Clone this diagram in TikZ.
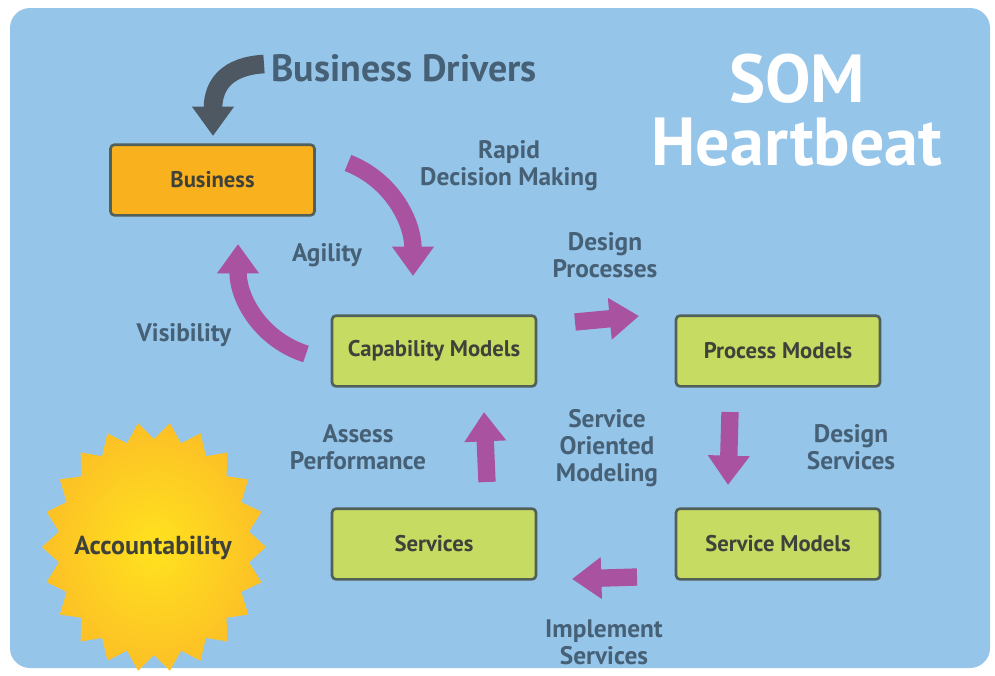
\documentclass[tikz,border=0pt]{standalone}
\usepackage{fontspec}
\setmainfont{PT Sans}
\usetikzlibrary{arrows.meta,shapes.geometric,calc}
\definecolor{bgblue}{RGB}{150,197,234}
\definecolor{slate}{RGB}{70,96,118}
\definecolor{plum}{RGB}{168,82,160}
\definecolor{darkarrow}{RGB}{78,88,98}
\definecolor{orangebox}{RGB}{249,177,30}
\definecolor{limebox}{RGB}{198,219,98}
\definecolor{boxline}{RGB}{82,96,90}
\definecolor{boxtext}{RGB}{62,66,58}
\definecolor{suncore}{RGB}{255,226,30}
\definecolor{sunedge}{RGB}{252,192,38}
\tikzset{
  x=0.75pt, y=-0.75pt,
  modelbox/.style={draw=boxline, line width=2pt, rounded corners=3pt, fill=limebox,
    minimum width=153pt, minimum height=53pt, inner sep=0pt,
    text=boxtext, font=\bfseries\fontsize{17}{20}\selectfont},
  lbl/.style={text=slate, align=center, font=\bfseries\fontsize{19}{20}\selectfont},
  bigarrow/.style={draw=plum, line width=13pt, -{Triangle[width=30pt,length=22pt]}},
}
\begin{document}
\begin{tikzpicture}
\useasboundingbox (0,0) rectangle (995,675);
\fill[white] (0,0) rectangle (995,675);
\fill[bgblue, rounded corners=15pt] (10,8) rectangle (990,668);

% sun
\coordinate (sunc) at (154,547);
\shade[inner color=suncore, outer color=sunedge]
  ($(sunc)+(0:112 and 125)$) \foreach \i in {1,...,43} { -- ($(sunc)+({\i*360/44}:{ifthenelse(mod(\i,2)==0,112,96)} and {ifthenelse(mod(\i,2)==0,125,108)})$) } -- cycle;

% boxes
\node[modelbox, fill=orangebox] (business) at (212.5,180) {Business};
\node[modelbox] (capability) at (434,351) {Capability Models};
\node[modelbox] (process) at (778,351) {Process Models};
\node[modelbox] (services) at (434,544) {Services};
\node[modelbox] (servicemodels) at (778,544) {Service Models};

% titles
\node[text=slate, font=\bfseries\fontsize{28.5}{30}\selectfont] (drivers) at (404,68) {Business Drivers};
\node[text=white, align=center, font=\bfseries\fontsize{51}{47}\selectfont] (som) at (797,110) {SOM\\Heartbeat};

% labels
\node[lbl] (rapid) at (509,166) {Rapid\\Decision Making};
\node[lbl] (agility) at (327,255) {Agility};
\node[lbl] (visibility) at (184,335) {Visibility};
\node[lbl] (designproc) at (605,255) {Design\\Processes};
\node[lbl] (assess) at (358,447) {Assess\\Performance};
\node[lbl] (som2) at (607,448) {Service\\Oriented\\Modeling};
\node[lbl] (designserv) at (851,447) {Design\\Services};
\node[lbl] (implement) at (604,642) {Implement\\Services};
\node[text=boxtext, font=\bfseries\fontsize{19.5}{20}\selectfont] (account) at (153,548) {Accountability};

% arrow end points
\coordinate (gA) at (264,64);
\coordinate (gB) at (213,136);
\coordinate (r1) at (348,163);
\coordinate (r2) at (413,276);
\coordinate (v1) at (306,354);
\coordinate (v2) at (238,244);
\coordinate (p1) at (575,322);
\coordinate (p2) at (639,316);
\coordinate (d1) at (730,412);
\coordinate (d2) at (728,485);
\coordinate (i1) at (637,577);
\coordinate (i2) at (572,579);
\coordinate (u1) at (487,482);
\coordinate (u2) at (484,412);

\draw[draw=darkarrow, line width=14pt, -{Triangle[width=30pt,length=22pt]}]
  (gA) .. controls (228,66) and (213,84) .. (gB);
\draw[bigarrow] (r1) .. controls (392,180) and (413,222) .. (r2);
\draw[bigarrow] (v1) .. controls (262,340) and (238,300) .. (v2);
\draw[bigarrow] (p1) -- (p2);
\draw[bigarrow] (d1) -- (d2);
\draw[bigarrow] (i1) -- (i2);
\draw[bigarrow] (u1) -- (u2);
\end{tikzpicture}
\end{document}
